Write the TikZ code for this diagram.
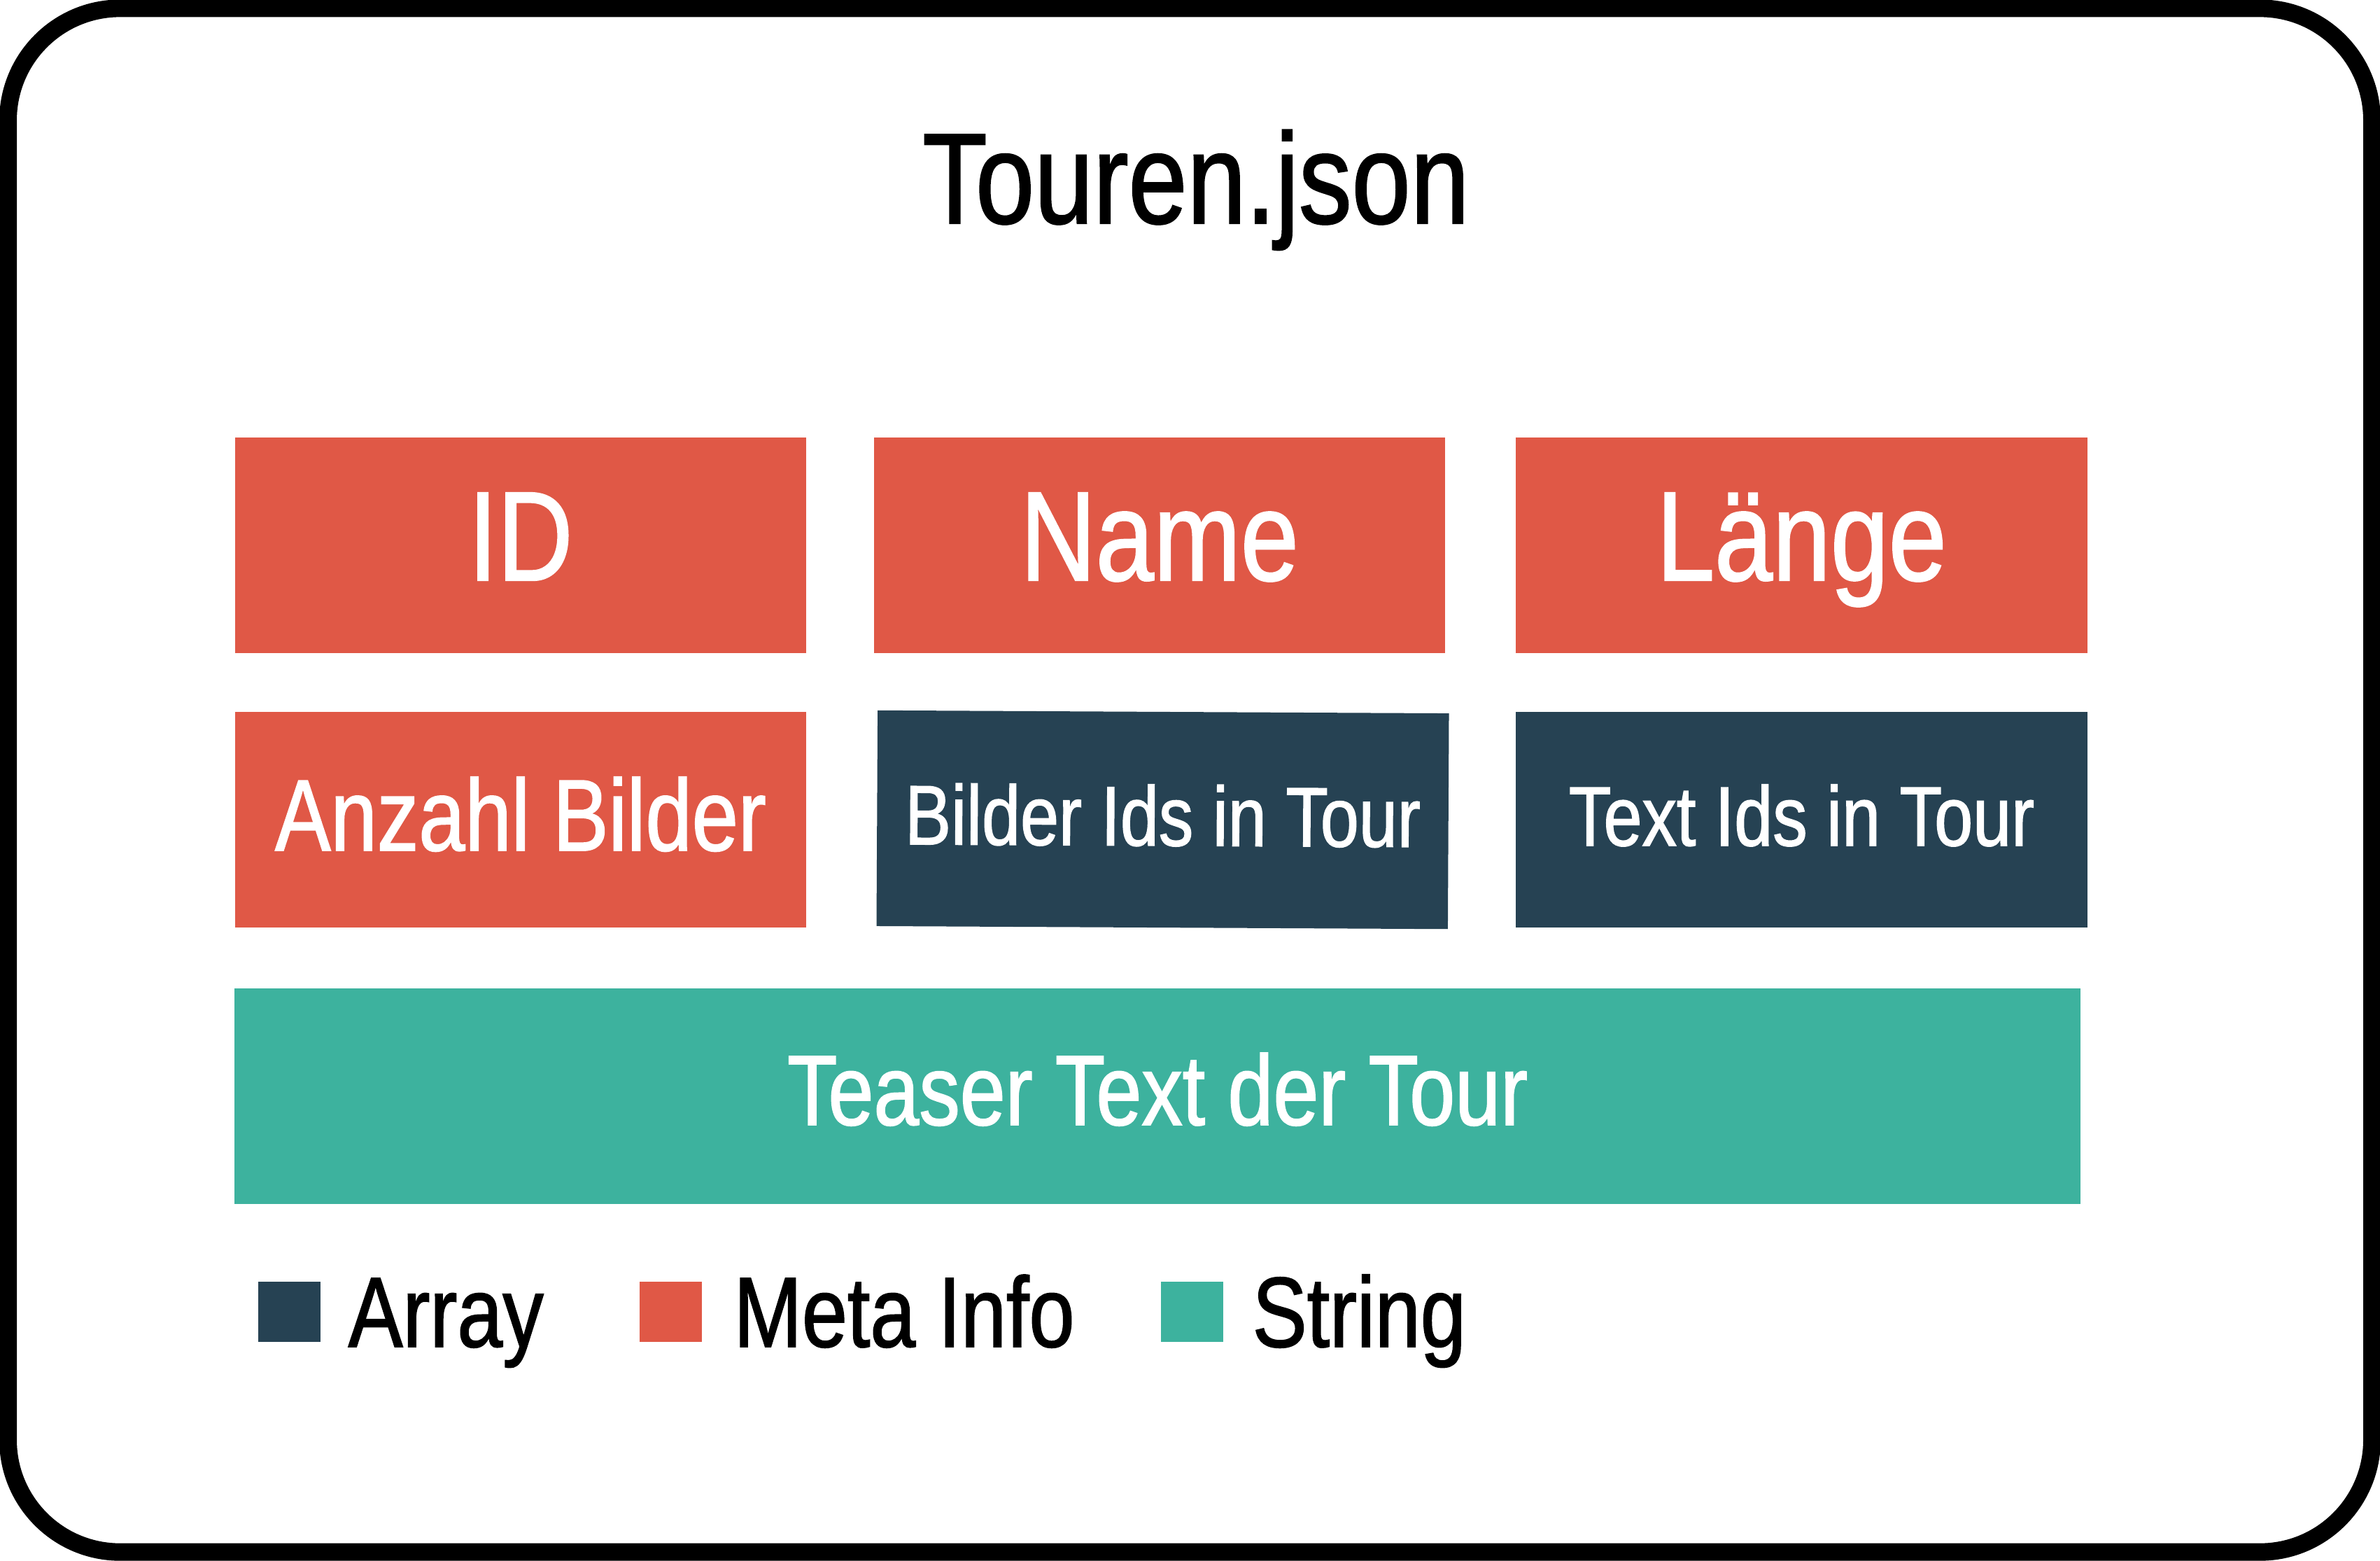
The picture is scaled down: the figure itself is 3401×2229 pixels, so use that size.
\documentclass[tikz,border=0pt]{standalone}
\usepackage{fontspec}
\setmainfont[FakeStretch=0.82,FakeBold=1.2]{Liberation Sans}
\definecolor{metared}{HTML}{E05846}
\definecolor{arrayblue}{HTML}{264253}
\definecolor{stringteal}{HTML}{3DB29E}
\begin{document}
\begin{tikzpicture}[x=0.01cm,y=-0.01cm,
  field/.style={rectangle, inner sep=0pt, outer sep=0pt, text=white,
    minimum height=3.08cm, minimum width=8.16cm},
  meta/.style={field, fill=metared},
  arr/.style={field, fill=arrayblue},
  str/.style={field, fill=stringteal},
  bigtext/.style={font=\fontsize{51.7}{60}\selectfont, text height=1.30cm, text depth=0.30cm},
  midtext/.style={font=\fontsize{41.3}{48}\selectfont, text height=1.04cm, text depth=0.16cm},
  smalltext/.style={font=\fontsize{34.3}{40}\selectfont, text height=0.87cm, text depth=0.13cm},
  widetext/.style={font=\fontsize{40.5}{48}\selectfont, text height=1.02cm, text depth=0.20cm},
  legkey/.style={rectangle, inner sep=0pt, minimum width=0.89cm, minimum height=0.86cm},
  legtext/.style={anchor=base west, inner sep=0pt, font=\fontsize{40.5}{48}\selectfont},
]
\useasboundingbox (0,0) rectangle (3401,2229);

% outer frame
\node[draw, line width=0.25cm, rounded corners=1.6cm, inner sep=0pt,
  minimum width=33.76cm, minimum height=22.04cm] (frame) at (1700.5,1114.5) {};

% title
\node[anchor=base, inner sep=0pt, font=\fontsize{52.4}{60}\selectfont] (title) at (1709,319) {Touren.json};

% first row: meta info fields
\node[meta, bigtext] (id)    at (744,779)    {ID};
\node[meta, bigtext] (name)  at (1657,779)   {Name};
\node[meta, bigtext] (laenge) at (2574.5,779) {Länge};

% second row
\node[meta, midtext] (anzahl) at (744,1171) {Anzahl Bilder};
\node[arr, smalltext, rotate=-0.3] (bilderids) at (1661.5,1171) {Bilder Ids in Tour};
\node[arr, smalltext] (textids) at (2574.5,1171) {Text Ids in Tour};

% third row: string field
\node[str, widetext, minimum width=26.36cm] (teaser) at (1654,1566) {Teaser Text der Tour};

% legend
\node[legkey, fill=arrayblue]  (keyarray) at (413.5,1874) {};
\node[legtext] (labarray) at (497,1924) {Array};
\node[legkey, fill=metared]    (keymeta)  at (958.5,1874) {};
\node[legtext] (labmeta)  at (1048,1924) {Meta Info};
\node[legkey, fill=stringteal] (keystr)   at (1703.5,1874) {};
\node[legtext] (labstr)   at (1789,1924) {String};
\end{tikzpicture}
\end{document}
